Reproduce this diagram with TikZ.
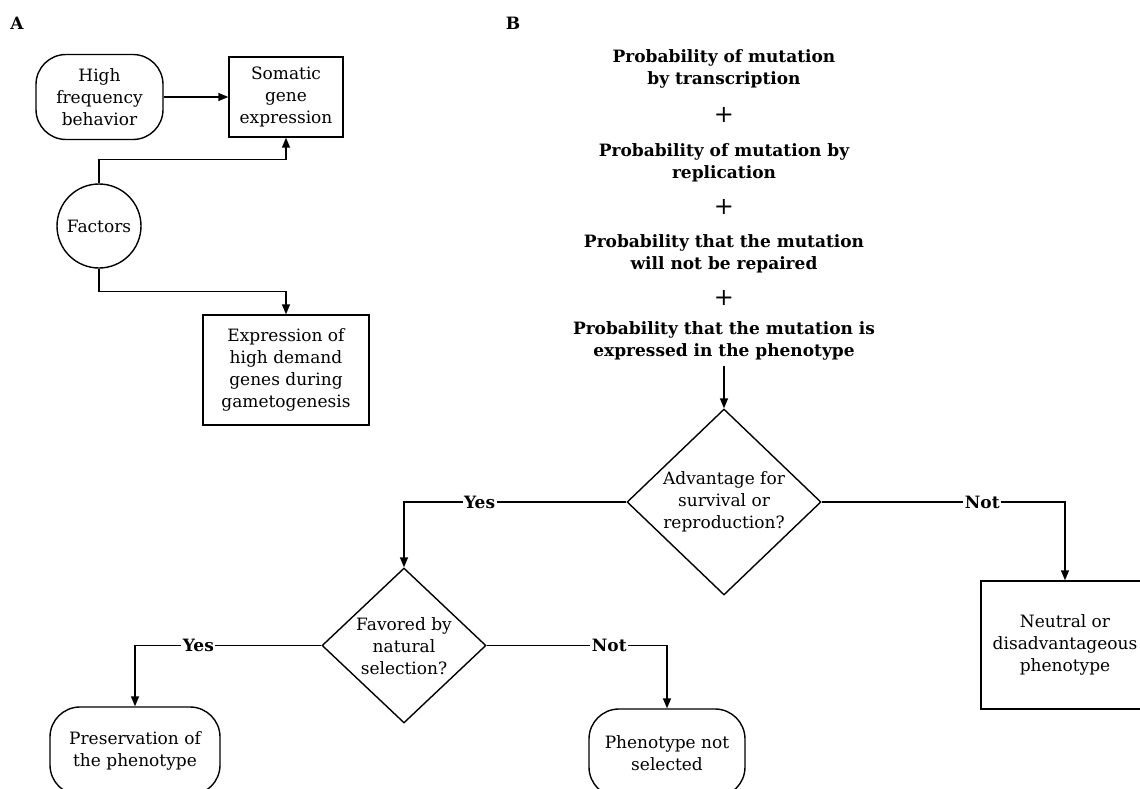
\documentclass[tikz,border=0pt]{standalone}
\usepackage{fontspec}
\setmainfont{DejaVu Serif}
\usetikzlibrary{shapes.geometric,arrows.meta,calc}
\begin{document}
\begin{tikzpicture}[x=1pt,y=-1pt,
  every node/.style={font=\fontsize{17}{22}\selectfont, align=center},
  box/.style={draw, line width=1.4pt, inner sep=0pt},
  rbox/.style={box, rounded corners=30pt},
  dia/.style={draw, line width=1.4pt, diamond, inner sep=0pt},
  txt/.style={inner sep=0pt},
  plus/.style={inner sep=0pt, font=\fontsize{24}{24}\selectfont},
  btxt/.style={inner sep=0pt, font=\fontsize{17}{22}\selectfont\bfseries},
  lbl/.style={fill=white, inner sep=1.5pt, font=\fontsize{17}{22}\selectfont\bfseries},
  arr/.style={draw, line width=1.4pt, -{Triangle[length=10pt,width=8pt]}}
]
\useasboundingbox (0,0) rectangle (1140,789);
\clip (0,0) rectangle (1140,789);

% panel labels
\node[btxt] (la) at (17,23) {A};
\node[btxt] (lb) at (513,23) {B};

% ---------- panel A ----------
\node[rbox, minimum width=127, minimum height=85] (hfb) at (99.5,97) {High\\frequency\\behavior};
\node[box, minimum width=114, minimum height=80] (som) at (286,97) {Somatic\\gene\\expression};
\node[box, circle, minimum size=84] (fac) at (99,226) {Factors};
\node[box, minimum width=166, minimum height=110] (expr) at (286,370) {Expression of\\high demand\\genes during\\gametogenesis};

\draw[arr] (hfb.east) -- (som.west);
\draw[arr] (fac.north) -- ++(0,-24) -| (som.south);
\draw[arr] (fac.south) -- ++(0,23) -| (expr.north);

% ---------- panel B ----------
\node[btxt] (p1) at (724,69) {Probability of mutation\\by transcription};
\node[plus] (plus1) at (724,115) {+};
\node[btxt] (p2) at (724,163) {Probability of mutation by\\replication};
\node[plus] (plus2) at (724,207) {+};
\node[btxt] (p3) at (724,254) {Probability that the mutation\\will not be repaired};
\node[plus] (plus3) at (724,298) {+};
\node[btxt] (p4) at (724,341) {Probability that the mutation is\\expressed in the phenotype};

\node[dia, minimum width=194, minimum height=186] (d1) at (724,502) {};
\node[txt] (d1t) at (724,502) {Advantage for\\survival or\\reproduction?};

\node[dia, minimum width=164, minimum height=155] (d2) at (404,645.5) {};
\node[txt] (d2t) at (404,646) {Favored by\\natural\\selection?};

\node[box, minimum width=168, minimum height=128] (neu) at (1065,645) {Neutral or\\disadvantageous\\phenotype};
\node[rbox, minimum width=170, minimum height=88] (pres) at (135,751) {Preservation of\\the phenotype};
\node[rbox, minimum width=156, minimum height=88] (pns) at (667,753) {Phenotype not\\selected};

\draw[arr, shorten <=5pt] (p4.south) -- (d1.north);
\draw[arr] (d1.west) -| node[lbl, pos=0.33] {Yes} (d2.north);
\draw[arr] (d1.east) -| node[lbl, pos=0.33] {Not} (neu.north);
\draw[arr] (d2.west) -| node[lbl, pos=0.33] {Yes} (pres.north);
\draw[arr] (d2.east) -| node[lbl, pos=0.34] {Not} (pns.north);
\end{tikzpicture}
\end{document}
